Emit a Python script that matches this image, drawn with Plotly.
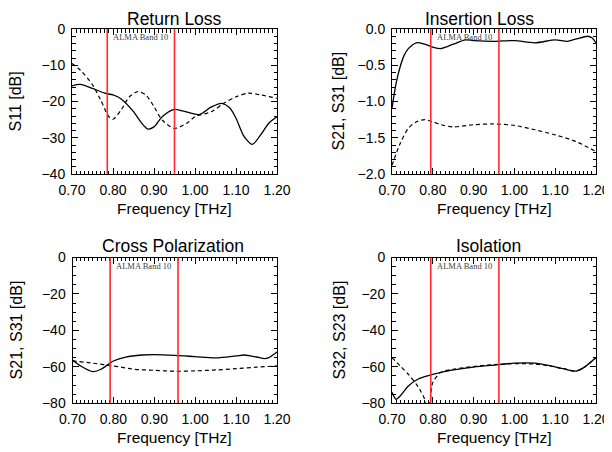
import plotly.graph_objects as go

# ---------------- data ----------------
freq_ticks = [0.70, 0.80, 0.90, 1.00, 1.10, 1.20]
freq_tick_text = ["0.70", "0.80", "0.90", "1.00", "1.10", "1.20"]

titles = ["Return Loss", "Insertion Loss", "Cross Polarization", "Isolation"]
ylabels = ["S11 [dB]", "S21, S31 [dB]", "S21, S31 [dB]", "S32, S23 [dB]"]
xlabel = "Frequency [THz]"
band_label = "ALMA Band 10"

# band edges as drawn in each panel (THz)
band_lo = [0.786, 0.795, 0.792, 0.795]
band_hi = [0.950, 0.962, 0.958, 0.962]

# Return loss
rl_solid_f = [0.70, 0.72, 0.75, 0.78, 0.80, 0.82, 0.85, 0.87, 0.885, 0.90, 0.92, 0.95, 0.97,
              1.01, 1.04, 1.065, 1.085, 1.10, 1.12, 1.14, 1.16, 1.18, 1.20]
rl_solid_db = [-15.7, -15.3, -16.4, -17.7, -18.2, -19.3, -22.8, -26.0, -27.6, -27.0, -24.2, -22.2, -22.6,
               -23.6, -21.5, -20.5, -21.8, -24.6, -29.7, -31.8, -29.2, -26.0, -24.2]
rl_dash_f = [0.70, 0.72, 0.75, 0.77, 0.79, 0.80, 0.82, 0.84, 0.86, 0.88, 0.90, 0.92, 0.95,
             0.98, 1.00, 1.04, 1.07, 1.10, 1.13, 1.16, 1.20]
rl_dash_db = [-9.5, -11.3, -15.4, -19.6, -24.2, -24.9, -22.3, -18.7, -17.3, -18.2, -21.4, -25.1, -27.4,
              -26.0, -24.2, -22.8, -20.5, -18.7, -17.7, -18.2, -19.1]

# Insertion loss
il_solid_f = [0.70, 0.71, 0.72, 0.73, 0.74, 0.76, 0.78, 0.80, 0.82, 0.85, 0.88, 0.90, 0.95,
              1.00, 1.05, 1.10, 1.13, 1.15, 1.18, 1.19, 1.20]
il_solid_db = [-1.09, -0.75, -0.52, -0.36, -0.27, -0.19, -0.21, -0.25, -0.27, -0.21, -0.15, -0.16, -0.17,
               -0.16, -0.19, -0.15, -0.17, -0.14, -0.10, -0.12, -0.19]
il_dash_f = [0.70, 0.72, 0.74, 0.76, 0.78, 0.80, 0.82, 0.85, 0.90, 0.95, 1.00, 1.05, 1.10, 1.15, 1.20]
il_dash_db = [-1.88, -1.58, -1.37, -1.28, -1.25, -1.28, -1.32, -1.35, -1.32, -1.31, -1.33, -1.39,
              -1.46, -1.55, -1.69]

# Cross polarization
xp_solid_f = [0.70, 0.72, 0.75, 0.77, 0.79, 0.80, 0.83, 0.87, 0.90, 0.95, 1.00, 1.05, 1.10,
              1.12, 1.15, 1.17, 1.18, 1.20]
xp_solid_db = [-56.2, -59.5, -62.6, -61.3, -58.2, -56.8, -54.6, -53.5, -53.3, -53.7, -54.4, -55.1,
               -54.0, -53.5, -54.6, -55.5, -54.9, -51.8]
xp_dash_f = [0.70, 0.75, 0.80, 0.85, 0.90, 0.95, 1.00, 1.05, 1.10, 1.15, 1.20]
xp_dash_db = [-56.7, -58.0, -59.5, -61.3, -61.9, -62.4, -62.2, -61.7, -61.0, -60.2, -59.5]

# Isolation
iso_solid_f = [0.70, 0.71, 0.72, 0.74, 0.76, 0.78, 0.80, 0.85, 0.90, 0.95, 1.00, 1.05, 1.08,
               1.12, 1.15, 1.17, 1.20]
iso_solid_db = [-74.0, -77.8, -76.0, -70.5, -67.2, -65.4, -64.1, -61.7, -60.1, -59.0, -58.0, -58.0,
                -59.1, -61.0, -62.3, -60.4, -54.9]
iso_dash_f = [0.70, 0.72, 0.74, 0.76, 0.77, 0.78, 0.786, 0.794, 0.80, 0.82, 0.85, 0.90, 0.95,
              1.00, 1.05, 1.08, 1.12, 1.15, 1.17, 1.20]
iso_dash_db = [-54.9, -59.5, -64.1, -69.6, -73.2, -77.8, -88.0, -78.0, -68.6, -63.0, -61.3, -59.8,
               -58.8, -58.2, -58.5, -59.3, -61.0, -62.3, -60.4, -54.9]

panels = [
    (rl_solid_f, rl_solid_db, rl_dash_f, rl_dash_db),
    (il_solid_f, il_solid_db, il_dash_f, il_dash_db),
    (xp_solid_f, xp_solid_db, xp_dash_f, xp_dash_db),
    (iso_solid_f, iso_solid_db, iso_dash_f, iso_dash_db),
]

y_ranges = [[-40, 0], [-2.0, 0.0], [-80, 0], [-80, 0]]
y_dtick = [10, 0.5, 20, 20]
y_minor = [2, 0.1, 5, 5]
y_fmt = ["d", ".1f", "d", "d"]

# ---------------- layout geometry (page pixels -> paper) ----------------
OFF = 8                       # default page body margin
W, H = 612 - OFF, 452 - OFF   # figure size so that it fills the window


def px2x(p):
    return (p - OFF) / W


def px2y(p):
    return 1 - (p - OFF) / H


px_x = [(72, 277), (392, 596), (72.5, 277), (392, 596)]
px_y = [(29, 174), (29, 174), (257.5, 403.3), (257.5, 403.3)]
title_cx = [174, 479, 173, 488.5]
title_top = [8, 8, 235, 235]
xlab_cy = [209, 209, 437, 437]
ylab_cx = [15, 338, 16, 339]

fig = go.Figure()
font_fam = "Liberation Sans, Arial, sans-serif"

for i, (sf, sd, dfq, dd) in enumerate(panels):
    n = "" if i == 0 else str(i + 1)
    xa, ya = "x" + n, "y" + n
    fig.add_trace(go.Scatter(x=sf, y=sd, mode="lines", xaxis=xa, yaxis=ya,
                             line=dict(color="black", width=1.3, shape="spline", smoothing=0.8),
                             showlegend=False, hoverinfo="skip"))
    fig.add_trace(go.Scatter(x=dfq, y=dd, mode="lines", xaxis=xa, yaxis=ya,
                             line=dict(color="black", width=1.2, shape="spline", smoothing=0.8,
                                       dash="4px,3px"),
                             showlegend=False, hoverinfo="skip"))
    x0, x1 = px_x[i]
    y0, y1 = px_y[i]
    common = dict(showline=True, linecolor="black", linewidth=1, mirror="allticks",
                  ticks="inside", ticklen=6, tickwidth=1, tickcolor="black",
                  showgrid=False, zeroline=False, automargin=False,
                  tickfont=dict(family=font_fam, size=14, color="black"))
    fig.layout["xaxis" + n] = dict(
        common, domain=[px2x(x0), px2x(x1)], anchor=ya, range=[0.7, 1.2],
        tickmode="array", tickvals=freq_ticks, ticktext=freq_tick_text,
        ticklabelstandoff=3,
        minor=dict(ticks="inside", ticklen=3.5, tickwidth=1, tickcolor="black",
                   tick0=0.7, dtick=0.01, showgrid=False))
    fig.layout["yaxis" + n] = dict(
        common, domain=[px2y(y1), px2y(y0)], anchor=xa, range=y_ranges[i],
        tickmode="linear", tick0=0, dtick=y_dtick[i], tickformat=y_fmt[i],
        ticklabelstandoff=3,
        minor=dict(ticks="inside", ticklen=3.5, tickwidth=1, tickcolor="black",
                   tick0=0, dtick=y_minor[i], showgrid=False))
    # band edges
    for xb in (band_lo[i], band_hi[i]):
        fig.add_shape(type="line", xref=xa, yref=ya + " domain", x0=xb, x1=xb, y0=0, y1=1,
                      line=dict(color="#ff2a2a", width=1.6))
    # band label
    fig.add_annotation(x=band_lo[i] + 0.01, y=px2y(y0 + 8), xref=xa, yref="paper",
                       text=band_label, showarrow=False, xanchor="left", yanchor="middle",
                       font=dict(family="Liberation Serif", size=8.5, color="#404040"))
    # panel title
    fig.add_annotation(x=px2x(title_cx[i]), y=px2y(title_top[i]), xref="paper", yref="paper",
                       text=titles[i], showarrow=False, xanchor="center", yanchor="top",
                       borderpad=0,
                       font=dict(family=font_fam, size=17.5, color="black"))
    # x label
    fig.add_annotation(x=px2x((x0 + x1) / 2), y=px2y(xlab_cy[i]), xref="paper", yref="paper",
                       text=xlabel, showarrow=False, xanchor="center", yanchor="middle",
                       font=dict(family=font_fam, size=15.5, color="black"))
    # y label
    fig.add_annotation(x=px2x(ylab_cx[i]), y=px2y((y0 + y1) / 2), xref="paper", yref="paper",
                       text=ylabels[i], showarrow=False, textangle=-90,
                       xanchor="center", yanchor="middle",
                       font=dict(family=font_fam, size=16, color="black"))

fig.update_layout(template="none", width=W, height=H, margin=dict(l=0, r=0, t=0, b=0),
                  paper_bgcolor="white", plot_bgcolor="white", showlegend=False)

fig.write_html("out.html", config={"displayModeBar": False})
